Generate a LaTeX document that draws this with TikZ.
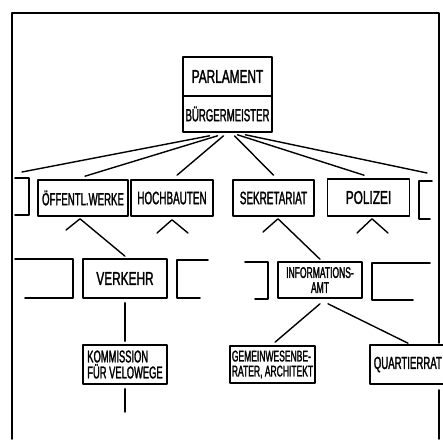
\documentclass[tikz,border=0pt]{standalone}
\usepackage{fontspec}
\newfontfamily\hand[FakeStretch=0.55,FakeBold=1.5]{Liberation Sans}
\newfontfamily\handwide[FakeStretch=0.64,FakeBold=1.5]{Liberation Sans}
\begin{document}
\begin{tikzpicture}[x=1pt,y=-1pt,line width=1.6pt,line cap=round,line join=round,
  box/.style={draw,rectangle,inner sep=0pt,align=center,font=\hand\fontsize{18}{18}\selectfont},
  widebox/.style={box,font=\handwide\fontsize{18.5}{18}\selectfont},
  smallbox/.style={box,font=\hand\fontsize{15.5}{15}\selectfont},
  wire/.style={line width=1.4pt}]
\useasboundingbox (0,0) rectangle (443,439);
\fill[white] (0,0) rectangle (443,439);
% frame
\draw (12,439) -- (12,13) -- (439,13) -- (439,343);
\draw (439,390) -- (439,439);
% top
\node[widebox,minimum width=89pt,minimum height=39pt] (parl) at (227.5,76.5) {PARLAMENT};
\node[box,minimum width=89pt,minimum height=36pt,font=\hand\fontsize{17.5}{18}\selectfont] (buerg) at (227.5,114) {BÜRGERMEISTER};
% row 1
\node[box,minimum width=90pt,minimum height=36pt,font=\hand\fontsize{17.5}{18}\selectfont] (oeff) at (83,198) {ÖFFENTL.WERKE};
\node[box,minimum width=82pt,minimum height=36pt] (hoch) at (172,198) {HOCHBAUTEN};
\node[box,minimum width=81pt,minimum height=36pt] (sekr) at (273.5,198) {SEKRETARIAT};
\node[widebox,minimum width=82pt,minimum height=37pt] (poli) at (368.5,197.5) {POLIZEI};
\draw (15,178) -- (29,178) -- (29,215) -- (15,215);
\draw (432,181) -- (419,181) -- (419,219) -- (430,219);
% row 2
\node[widebox,minimum width=84pt,minimum height=39pt] (verk) at (125,278.5) {VERKEHR};
\node[smallbox,minimum width=84pt,minimum height=36pt] (info) at (320,280) {INFORMATIONS-\\AMT};
\draw (15,259) -- (73,259) -- (73,298) -- (25,298);
\draw (208,260) -- (177,260) -- (177,298) -- (200,298);
\draw (245,262) -- (268,262) -- (268,299) -- (255,299);
\draw (430,263) -- (372,263) -- (372,300) -- (413,300);
% row 3
\node[box,align=left,font=\hand\fontsize{17}{16}\selectfont,minimum width=84pt,minimum height=39pt] (komm) at (125,364.5) {KOMMISSION\\FÜR VELOWEGE};
\node[smallbox,align=left,minimum width=85pt,minimum height=37pt] (gem) at (272.5,364.5) {GEMEINWESENBE-\\RATER, ARCHITEKT};
\node[box,anchor=west,align=left,inner xsep=4pt,text width=78pt,minimum height=39pt,font=\hand\fontsize{17.5}{18}\selectfont] (quart) at (369,364.5) {QUARTIERRAT};
% free ends
\coordinate (lt) at (22,172);
\coordinate (rt) at (427,173);
\coordinate (s1) at (66,230);
\coordinate (h1) at (157,233);
\coordinate (h2) at (188,233);
\coordinate (k1) at (263,232);
\coordinate (p1) at (357,233);
\coordinate (p2) at (388,233);
\coordinate (kend) at (125,412);
% connectors
\draw[wire] ([shift={(-18pt,-3pt)}]buerg.south) -- (lt);
\draw[wire] ([shift={(-10pt,-3pt)}]buerg.south) -- ([shift={(2pt,3pt)}]oeff.north);
\draw[wire] ([shift={(-4pt,-3pt)}]buerg.south) -- ([shift={(5pt,4pt)}]hoch.north);
\draw[wire] ([shift={(7pt,-3pt)}]buerg.south) -- ([shift={(0pt,4pt)}]sekr.north);
\draw[wire] ([shift={(10pt,-2pt)}]buerg.south) -- ([shift={(-4.5pt,3pt)}]poli.north);
\draw[wire] ([shift={(18pt,-2pt)}]buerg.south) -- (rt);
\draw[wire] (s1) -- ([shift={(-3pt,-2pt)}]oeff.south) -- ([yshift=2pt]verk.north);
\draw[wire] (h1) -- ([yshift=-3pt]hoch.south) -- (h2);
\draw[wire] (k1) -- ([shift={(4.5pt,-2pt)}]sekr.south) -- ([yshift=2pt]info.north);
\draw[wire] (p1) -- ([shift={(3.5pt,-2pt)}]poli.south) -- (p2);
\draw[wire] ([yshift=-4pt]verk.south) -- ([yshift=3pt]komm.north);
\draw[wire] ([yshift=-4pt]komm.south) -- (kend);
\draw[wire] ([yshift=-5pt]info.south) -- ([shift={(2.5pt,3pt)}]gem.north);
\draw[wire] ([shift={(8pt,-5pt)}]info.south) -- ([shift={(39pt,1pt)}]quart.north west);
\end{tikzpicture}
\end{document}
